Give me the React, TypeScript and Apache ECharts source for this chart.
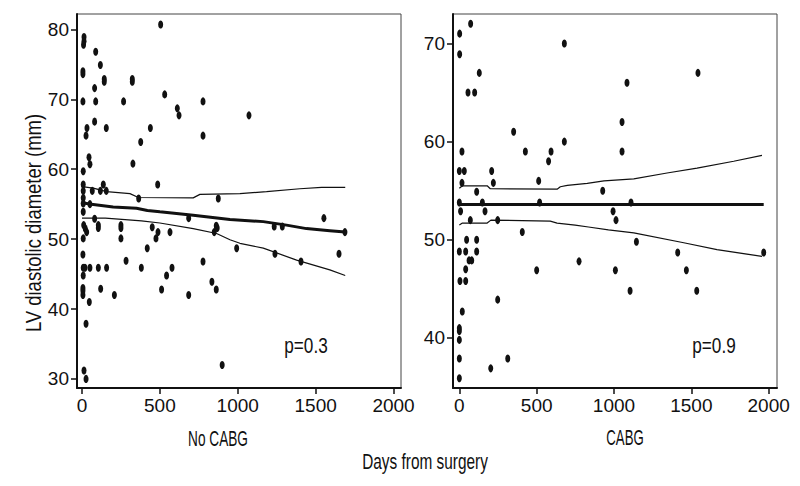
import React, { useEffect, useRef } from "react";
import * as echarts from "echarts";

// ---- Data ----
const xTicks = [0, 500, 1000, 1500, 2000];
const yTicksNoCabg = [30, 40, 50, 60, 70, 80];
const yTicksCabg = [40, 50, 60, 70];

const noCabgPoints: [number, number][] = [
  [13, 78.9], [13, 78.3], [10, 77.8], [6, 74.0], [6, 73.6], [88, 76.8], [118, 74.9],
  [143, 72.9], [143, 72.5], [81, 71.6], [88, 69.7], [6, 69.7], [81, 66.8], [32, 65.9],
  [26, 64.8], [156, 65.9], [45, 61.7], [51, 60.7], [8, 59.7], [8, 57.8], [137, 57.8],
  [8, 56.9], [66, 56.9], [118, 56.9], [156, 56.9], [8, 55.9], [8, 55.1], [51, 55.0],
  [8, 53.9], [267, 69.7], [323, 72.9], [323, 72.5], [327, 60.8], [377, 63.9], [439, 65.9],
  [364, 55.8], [486, 57.8], [505, 80.7], [531, 70.7], [612, 68.7], [623, 67.7], [777, 69.7],
  [777, 64.8], [875, 55.8], [1072, 67.7], [1553, 53.0],
  [81, 52.9], [11, 52.0], [21, 51.5], [30, 51.0], [105, 52.0], [105, 51.6], [250, 52.0],
  [250, 51.6], [250, 50.1], [8, 50.1], [6, 47.8], [8, 45.9], [19, 45.9], [51, 45.9],
  [105, 45.9], [158, 45.9], [8, 44.8], [6, 43.0], [6, 42.6], [6, 42.0], [47, 41.0],
  [26, 37.9], [120, 42.9], [208, 42.0], [283, 46.9], [381, 45.9], [419, 48.7], [451, 51.7],
  [475, 50.1], [488, 51.0], [511, 42.8], [543, 44.8], [578, 45.9], [565, 51.0], [685, 53.0],
  [685, 42.0], [777, 46.8], [834, 43.9], [862, 42.8], [849, 51.0], [862, 51.9], [868, 51.6],
  [900, 32.0], [993, 48.7], [13, 31.2], [26, 30.0], [1234, 51.8], [1286, 51.8], [1239, 47.9],
  [1406, 46.8], [1650, 47.9], [1688, 51.0],
];

const cabgPoints: [number, number][] = [
  [2, 71], [2, 68.9], [73, 72], [56, 65], [99, 65], [129, 67], [17, 59], [0, 57], [32, 57],
  [17, 55.8], [112, 54.9], [209, 57], [220, 55.8], [351, 61], [427, 59], [513, 56], [577, 58],
  [593, 59], [679, 70], [679, 60], [927, 55], [0, 53.8], [149, 53.8], [519, 53.8], [8, 52.9],
  [166, 52.9], [994, 52.9], [1052, 62], [1084, 66], [1052, 59], [1543, 67], [1110, 53.8],
  [71, 52], [248, 52], [407, 50.8], [47, 50], [112, 50], [0, 48.8], [41, 48.8], [112, 48.8],
  [63, 47.9], [80, 47.9], [41, 47], [4, 45.8], [41, 45.8], [248, 43.9], [19, 42.7], [0, 41],
  [0, 40.7], [0, 39.8], [0, 37.9], [313, 37.9], [203, 36.9], [0, 35.9], [500, 46.9],
  [774, 47.8], [1009, 46.9], [1013, 52.0], [1145, 49.8], [1412, 48.7], [1468, 46.9],
  [1535, 44.8], [1104, 44.8], [1968, 48.7],
];

const noCabgFit: [number, number][] = [
  [0, 55.2], [60, 55.0], [200, 54.6], [350, 54.4], [420, 54.1], [500, 53.9], [714, 53.4],
  [950, 52.8], [1164, 52.5], [1313, 52.0], [1441, 51.5], [1591, 51.2], [1690, 51.0],
];
const noCabgUpper: [number, number][] = [
  [0, 57.5], [73, 57.3], [158, 56.8], [308, 56.5], [362, 55.95], [714, 55.9], [757, 56.4],
  [1014, 56.5], [1185, 56.8], [1399, 57.2], [1538, 57.4], [1690, 57.4],
];
const noCabgLower: [number, number][] = [
  [0, 53.0], [150, 53.0], [382, 52.6], [500, 52.3], [714, 51.5], [864, 50.8], [950, 49.9],
  [1014, 49.4], [1164, 48.7], [1378, 47.0], [1591, 45.6], [1690, 44.8],
];

const cabgFit: [number, number][] = [[0, 53.6], [1968, 53.6]];
const cabgUpper: [number, number][] = [
  [0, 55.25], [20, 55.5], [180, 55.5], [200, 55.2], [632, 55.15], [653, 55.4], [698, 55.55],
  [827, 55.75], [935, 56.0], [1128, 56.2], [1343, 56.8], [1537, 57.3], [1774, 58.0], [1957, 58.6],
];
const cabgLower: [number, number][] = [
  [0, 51.5], [20, 51.7], [180, 51.7], [204, 52.0], [588, 51.9], [632, 51.7], [749, 51.5],
  [835, 51.3], [964, 51.0], [1128, 50.7], [1451, 49.7], [1666, 49.0], [1957, 48.3],
];

const FONT = "'Liberation Sans', Arial, sans-serif";
const INK = "#111111";

function xAxisCfg(gridIndex: number, min: number, max: number) {
  return {
    type: "value",
    gridIndex,
    min,
    max,
    splitLine: { show: false },
    axisLine: { show: true, onZero: false, lineStyle: { color: INK, width: 2 } },
    axisTick: { show: true, customValues: xTicks, length: 6, lineStyle: { color: INK, width: 1.5 } },
    axisLabel: {
      customValues: xTicks,
      fontSize: 19,
      fontFamily: FONT,
      color: INK,
      margin: 8,
      formatter: (v: number) => String(v),
    },
  };
}

function yAxisCfg(gridIndex: number, min: number, max: number, ticks: number[]) {
  return {
    type: "value",
    gridIndex,
    min,
    max,
    splitLine: { show: false },
    axisLine: { show: true, onZero: false, lineStyle: { color: INK, width: 2 } },
    axisTick: { show: true, customValues: ticks, length: 6, lineStyle: { color: INK, width: 1.5 } },
    axisLabel: {
      customValues: ticks,
      fontSize: 19,
      fontFamily: FONT,
      color: INK,
      margin: 8,
      formatter: (v: number) => String(v),
    },
  };
}

function lineSeries(data: [number, number][], idx: number, width: number) {
  return {
    type: "line",
    xAxisIndex: idx,
    yAxisIndex: idx,
    data,
    showSymbol: false,
    symbol: "none",
    lineStyle: { color: INK, width },
    z: 3,
  };
}

function scatterSeries(data: [number, number][], idx: number) {
  return {
    type: "scatter",
    xAxisIndex: idx,
    yAxisIndex: idx,
    data,
    symbol: "circle",
    symbolSize: [5, 8],
    itemStyle: { color: INK, opacity: 1 },
    z: 4,
  };
}

export default function App() {
  const ref = useRef<HTMLDivElement>(null);

  useEffect(() => {
    if (!ref.current) return;
    const chart = echarts.init(ref.current, null, { renderer: "svg" });
    const label = (text: string, x: number, y: number, scaleX: number, rotation = 0) => ({
      type: "text",
      x,
      y,
      rotation,
      scaleX,
      style: {
        text,
        font: `22px ${FONT}`,
        fill: INK,
        textAlign: "center",
        textVerticalAlign: "middle",
      },
    });
    chart.setOption({
      animation: false,
      backgroundColor: "#ffffff",
      grid: [
        { left: 77, top: 14, width: 324, height: 374, show: true, borderColor: "#444", borderWidth: 1 },
        { left: 453, top: 14, width: 324, height: 374, show: true, borderColor: "#444", borderWidth: 1 },
      ],
      xAxis: [xAxisCfg(0, -32, 2048), xAxisCfg(1, -41, 2054)],
      yAxis: [yAxisCfg(0, 28.7, 82.2, yTicksNoCabg), yAxisCfg(1, 34.9, 73.0, yTicksCabg)],
      series: [
        scatterSeries(noCabgPoints, 0),
        lineSeries(noCabgFit, 0, 3),
        lineSeries(noCabgUpper, 0, 1.2),
        lineSeries(noCabgLower, 0, 1.2),
        scatterSeries(cabgPoints, 1),
        lineSeries(cabgFit, 1, 3),
        lineSeries(cabgUpper, 1, 1.2),
        lineSeries(cabgLower, 1, 1.2),
      ],
      graphic: [
        label("LV diastolic diameter (mm)", 33, 223, 0.84, Math.PI / 2),
        label("No CABG", 218, 438, 0.62),
        label("CABG", 625, 438, 0.6),
        label("Days from surgery", 425, 461, 0.7),
        label("p=0.3", 306, 345, 0.78),
        label("p=0.9", 714, 345, 0.78),
      ],
    });
    return () => chart.dispose();
  }, []);

  return (
    <div
      ref={ref}
      style={{ position: "fixed", left: 0, top: 0, width: 800, height: 486, background: "#fff" }}
    />
  );
}
